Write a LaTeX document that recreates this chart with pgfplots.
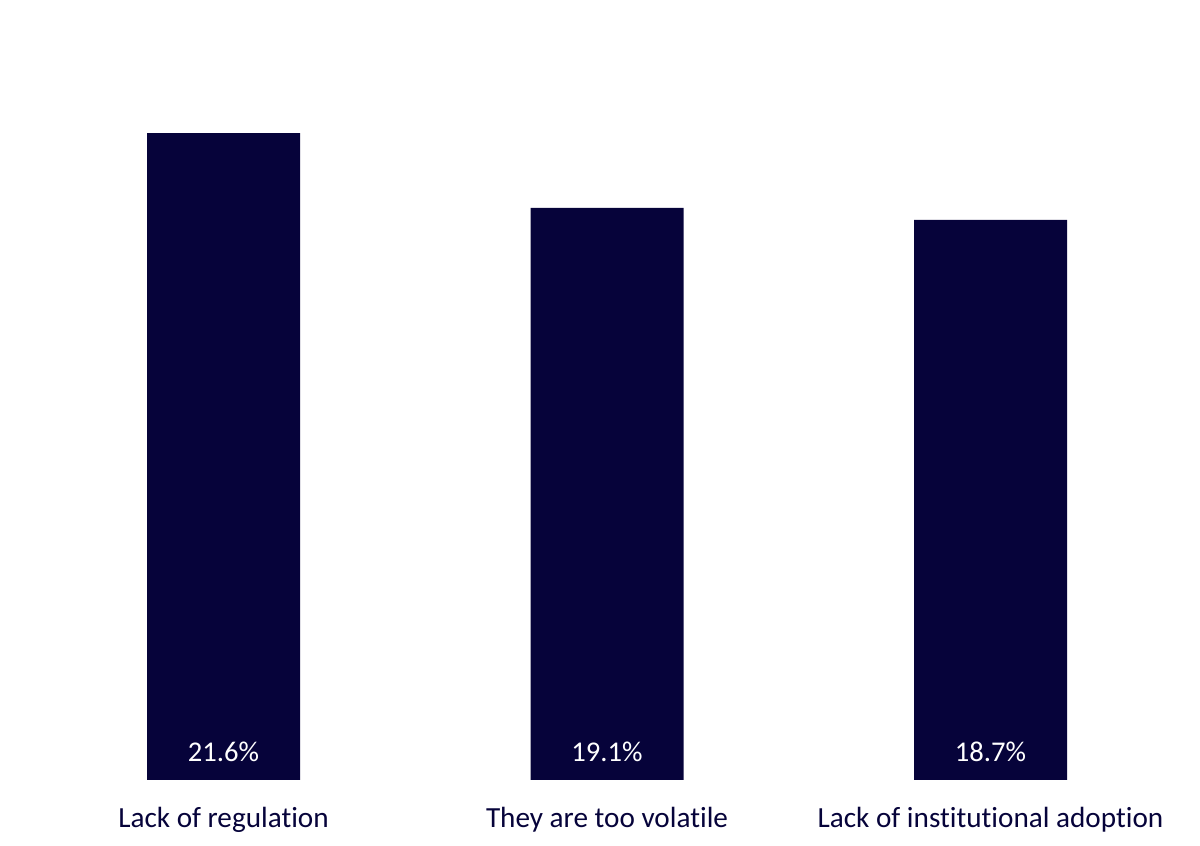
\documentclass[border=0pt]{standalone}
\usepackage{fontspec}
\setmainfont{Carlito}[Ligatures={NoCommon}]
\usepackage{pgfplots}
\usepackage{pgfplotstable}
\pgfplotsset{compat=1.18}
\definecolor{navy}{RGB}{6,3,58}
\pgfplotstableread{
x y lab
0 21.6 21.6\%
1 19.1 19.1\%
2 18.7 18.7\%
}\datatable
\begin{document}
\begin{tikzpicture}
\useasboundingbox (-15.875pt,-33pt) rectangle (584.125pt,390pt);
\begin{axis}[
  at={(0,0)}, anchor=south west,
  scale only axis,
  width=575.25pt, height=374.375pt,
  xmin=-0.5, xmax=2.5, ymin=0, ymax=25,
  axis line style={draw=none},
  ytick=\empty,
  xtick={0,1,2},
  xticklabels={Lack of regulation, They are too volatile, Lack of institutional adoption},
  xticklabel style={anchor=base, yshift=-24pt, text=navy, font=\fontsize{14.6}{17}\selectfont},
  major tick length=0pt,
  tick style={draw=none},
]
\addplot[ybar, bar width=76.5pt, fill=navy, draw=none] table[x=x, y=y] {\datatable};
\addplot[draw=none, mark=none, nodes near coords, point meta=explicit symbolic,
  every node near coord/.append style={anchor=base, yshift=9pt, text=white, font=\fontsize{14.3}{17}\selectfont}]
  table[x=x, y expr=0, meta=lab] {\datatable};
\end{axis}
\end{tikzpicture}
\end{document}
